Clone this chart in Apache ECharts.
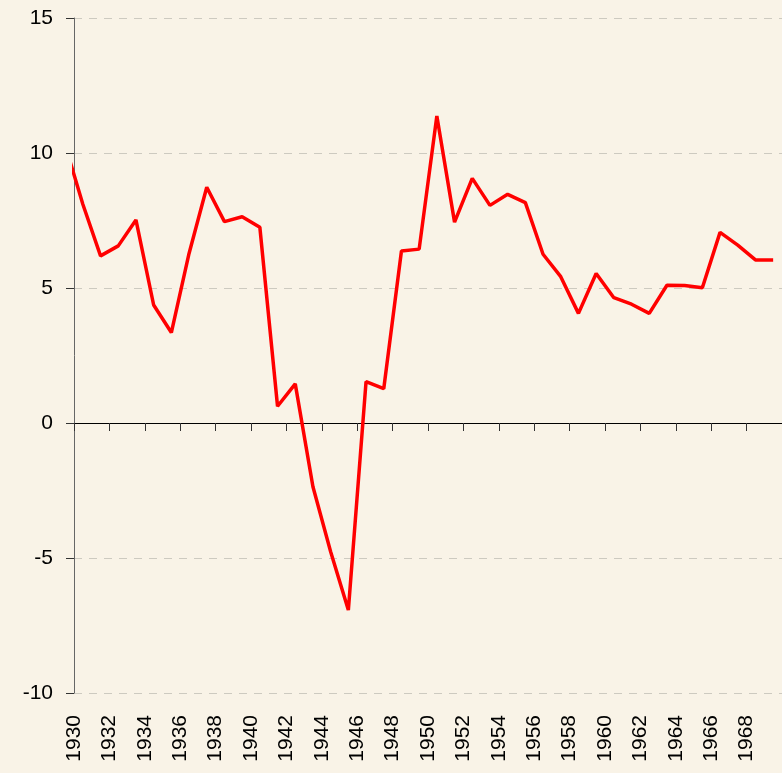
<!DOCTYPE html>
<html>
<head>
<meta charset="utf-8">
<script src="https://cdn.jsdelivr.net/npm/echarts@6/dist/echarts.min.js"></script>
<style>
  html, body { margin: 0; padding: 0; background: #f9f3e7; }
  #chart { width: 782px; height: 773px; }
</style>
</head>
<body>
<div id="chart"></div>
<script>
// annual values, plotted at mid-year (1929 is only partly visible, clipped at the axis)
const years = [1929, 1930, 1931, 1932, 1933, 1934, 1935, 1936, 1937, 1938, 1939,
  1940, 1941, 1942, 1943, 1944, 1945, 1946, 1947, 1948, 1949,
  1950, 1951, 1952, 1953, 1954, 1955, 1956, 1957, 1958, 1959,
  1960, 1961, 1962, 1963, 1964, 1965, 1966, 1967, 1968, 1969];
const values = [10.3, 8.1, 6.19, 6.56, 7.52, 4.37, 3.35, 6.28, 8.73, 7.46, 7.64,
  7.25, 0.62, 1.45, -2.36, -4.77, -6.93, 1.53, 1.27, 6.37, 6.44,
  11.37, 7.44, 9.06, 8.06, 8.47, 8.16, 6.25, 5.42, 4.06, 5.54,
  4.64, 4.40, 4.06, 5.10, 5.09, 5.01, 7.06, 6.59, 6.04, 6.04];
const yTicks = [-10, -5, 0, 5, 10, 15];

const chart = echarts.init(document.getElementById('chart'));

const points = years.map((y, i) => [y + 0.5, values[i]]);

const option = {
  backgroundColor: '#f9f3e7',
  animation: false,
  grid: { left: 74, right: 0, top: 18, bottom: 80 },
  xAxis: [
    {
      // bottom axis: only the rotated year labels
      type: 'value',
      min: 1930,
      max: 1970,
      interval: 2,
      position: 'bottom',
      axisLine: { show: false, onZero: false },
      axisTick: { show: false },
      splitLine: { show: false },
      axisLabel: {
        rotate: 90,
        margin: 22,
        fontSize: 21,
        fontFamily: 'Liberation Sans',
        color: '#000',
        showMaxLabel: false,
        formatter: v => String(v)
      }
    },
    {
      // zero line with ticks
      type: 'value',
      min: 1930,
      max: 1970,
      interval: 2,
      position: 'bottom',
      axisLine: { show: true, onZero: true, lineStyle: { color: '#000', width: 1 } },
      axisTick: { show: true, length: 8, lineStyle: { color: '#333' } },
      axisLabel: { show: false },
      splitLine: { show: false }
    }
  ],
  yAxis: {
    type: 'value',
    min: yTicks[0],
    max: yTicks[yTicks.length - 1],
    interval: 5,
    axisLine: { show: true, lineStyle: { color: '#666', width: 1 } },
    axisTick: { show: true, length: 8, lineStyle: { color: '#333' } },
    axisLabel: {
      margin: 21,
      fontSize: 21,
      fontFamily: 'Liberation Sans',
      color: '#000'
    },
    splitLine: {
      show: true,
      lineStyle: { color: '#cdcac0', type: [8, 7], width: 1 }
    }
  },
  series: [
    {
      type: 'line',
      xAxisIndex: 0,
      data: points,
      showSymbol: false,
      clip: true,
      lineStyle: { color: '#ff0000', width: 3.5 },
      itemStyle: { color: '#ff0000' }
    }
  ]
};

chart.setOption(option);
</script>
</body>
</html>
